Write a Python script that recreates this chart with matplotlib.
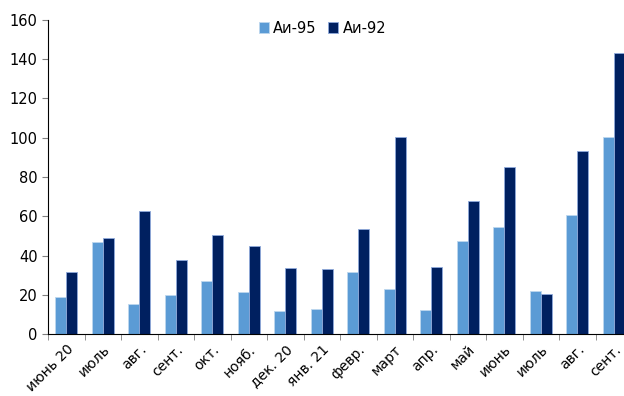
import matplotlib.pyplot as plt
import numpy as np

months = ['июнь 20', 'июль', 'авг.', 'сент.', 'окт.', 'нояб.', 'дек. 20', 'янв. 21',
          'февр.', 'март', 'апр.', 'май', 'июнь', 'июль', 'авг.', 'сент.']
ai95 = [19, 46.7, 15.5, 20, 27.2, 21.4, 11.9, 12.8, 31.4, 23.1, 12.2, 47.2, 54.6, 22.1, 60.7, 100.3]
ai92 = [31.5, 49, 62.5, 37.5, 50.5, 44.9, 33.7, 33.3, 53.6, 100.6, 34.2, 67.7, 85, 20.2, 93, 143]

fig = plt.figure(figsize=(6.24, 3.96), dpi=100)
# axes run past the right edge, like the original (last bar is cut)
ax = fig.add_axes([48 / 624, 62 / 396, 584 / 624, 314 / 396])

x = np.arange(len(months))
w = 0.3
ax.bar(x - w / 2, ai95, w, color='#5B9BD5', edgecolor='#BDD7EE', linewidth=0.6, label='Аи-95')
ax.bar(x + w / 2, ai92, w, color='#002060', edgecolor='#8FAADC', linewidth=0.6, label='Аи-92')

ax.set_xlim(-0.5, len(months) - 0.5)
ax.set_ylim(0, 160)
ax.set_yticks(range(0, 161, 20))
ax.tick_params(axis='y', labelsize=10.5, color='#808080', length=4)
ax.set_xticks(x)
ax.set_xticklabels(months, rotation=45, ha='right', rotation_mode='anchor', fontsize=10)
ax.tick_params(axis='x', which='major', length=0, pad=6)
ax.set_xticks(np.arange(-0.5, len(months), 1), minor=True)
ax.tick_params(axis='x', which='minor', length=4, color='#808080')

for s in ['top', 'right']:
    ax.spines[s].set_visible(False)
ax.spines['left'].set_color('black')
ax.spines['bottom'].set_color('black')

ax.legend(loc='upper center', bbox_to_anchor=(0.5 - 0.03, 1.04), ncol=2, frameon=False,
          fontsize=10.5, handlelength=0.7, handleheight=0.7, handletextpad=0.3, columnspacing=0.8)

fig.savefig('out.png', dpi=100)
